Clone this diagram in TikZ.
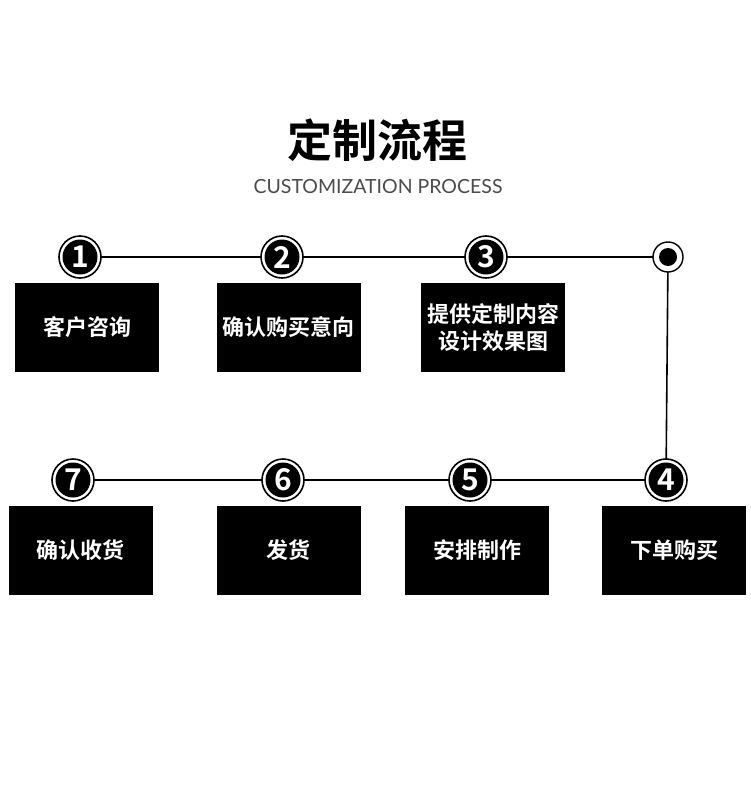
\documentclass[tikz,border=0pt]{standalone}
\usepackage{fontspec}
\setsansfont{Lato}
\newfontfamily\cjk{Noto Sans CJK SC}[BoldFont={* Bold}]
\usepackage{tikz}

\tikzset{
    stepbox/.style={fill=black, minimum width=144pt, minimum height=89pt, inner sep=0pt,
        text=white, align=center, font=\cjk\bfseries\fontsize{22}{27}\selectfont},
    numring/.style={circle, draw=black, line width=1.6pt, fill=white, minimum size=42pt, inner sep=0pt},
    numdisc/.style={circle, fill=black, minimum size=35pt, inner sep=0pt,
        text=white, font=\cjk\bfseries\fontsize{30}{30}\selectfont},
    flowline/.style={line width=1.6pt}
}

\begin{document}
\begin{tikzpicture}[x=1pt, y=-1pt]
    \useasboundingbox (0,0) rectangle (750,795);
    \fill[white] (0,0) rectangle (750,795);

    % title
    \node[font=\cjk\bfseries\fontsize{45}{45}\selectfont] (title) at (377,140) {定制流程};
    \node[font=\sffamily\fontsize{19.5}{19.5}\selectfont, text=black!70] (subtitle) at (378,187) {CUSTOMIZATION PROCESS};

    % circle centres
    \coordinate (c1) at (80,257);
    \coordinate (c2) at (282,257);
    \coordinate (c3) at (486,257);
    \coordinate (cd) at (668,257);
    \coordinate (c4) at (666,480);
    \coordinate (c5) at (470,480);
    \coordinate (c6) at (283,480);
    \coordinate (c7) at (73,480);

    % connectors
    \draw[flowline] (c1) -- (cd) -- (c4) -- (c7);

    % corner dot
    \node[circle, draw=black, line width=1.4pt, fill=white, minimum size=30pt] (dot) at (cd) {};
    \fill[black] (cd) circle (9pt);

    % numbered circles
    \foreach \n in {1,...,7} {
        \node[numring] (ring\n) at (c\n) {};
        \node[numdisc] (num\n) at (c\n) {\n};
    }

    % boxes
    \node[stepbox] (box1) at (87,327.5) {客户咨询};
    \node[stepbox] (box2) at (288.5,327.5) {确认购买意向};
    \node[stepbox] (box3) at (493,327.5) {提供定制内容\\设计效果图};
    \node[stepbox] (box4) at (674,550) {下单购买};
    \node[stepbox] (box5) at (477,550) {安排制作};
    \node[stepbox] (box6) at (288.5,550) {发货};
    \node[stepbox] (box7) at (80.5,550) {确认收货};
\end{tikzpicture}
\end{document}
